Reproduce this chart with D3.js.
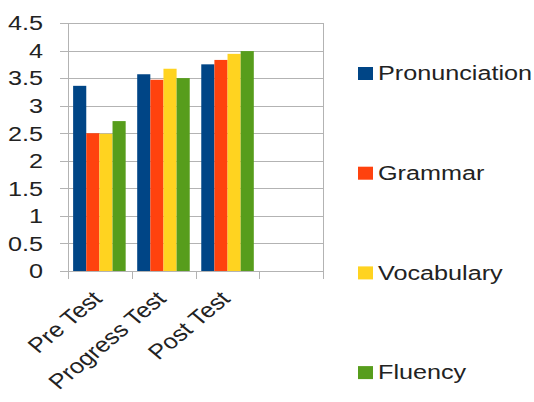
<!DOCTYPE html>
<html><head><meta charset="utf-8">
<script src="https://cdn.jsdelivr.net/npm/d3@7"></script>
<style>
html,body{margin:0;padding:0;background:#fff;}
svg{display:block;font-family:"Liberation Sans",Arial,sans-serif;}
</style></head>
<body>
<svg id="chart" width="534" height="402"></svg>
<script>
const categories = ["Pre Test", "Progress Test", "Post Test", ""];
const seriesNames = ["Pronunciation", "Grammar", "Vocabulary", "Fluency"];
const pronunciation = [3.36, 3.57, 3.75];
const grammar = [2.50, 3.47, 3.83];
const vocabulary = [2.49, 3.67, 3.94];
const fluency = [2.72, 3.50, 3.99];
const yTicks = [0, 0.5, 1, 1.5, 2, 2.5, 3, 3.5, 4, 4.5];
const colors = ["#004586", "#ff420e", "#ffd320", "#579d1c"];

const seriesValues = [pronunciation, grammar, vocabulary, fluency];
const svg = d3.select("#chart");
const L = 68, R = 323, T = 23, B = 271;
const SX = 1.2, FS = 21;

const x = d3.scaleBand().domain(categories).range([L, R]).paddingInner(0.18).paddingOuter(0.08);
const xs = d3.scaleBand().domain(seriesNames).range([0, x.bandwidth()]);
const y = d3.scaleLinear().domain([0, 4.5]).range([B, T]);

// gridlines
svg.append("g").selectAll("line").data(yTicks).join("line")
  .attr("x1", L - 8).attr("x2", R)
  .attr("y1", d => Math.round(y(d)) + 0.5).attr("y2", d => Math.round(y(d)) + 0.5)
  .attr("stroke", "#b3b3b3").attr("stroke-width", 1);

// category boundary ticks
const step = x.step();
const bounds = d3.range(categories.length + 1).map(i => L + i * (R - L) / categories.length);
svg.append("g").selectAll("line").data(bounds).join("line")
  .attr("x1", d => Math.round(d) + 0.5).attr("x2", d => Math.round(d) + 0.5)
  .attr("y1", B).attr("y2", B + 8)
  .attr("stroke", "#b3b3b3");
// left axis and right border
[L, R].forEach(v => svg.append("line")
  .attr("x1", Math.round(v) + 0.5).attr("x2", Math.round(v) + 0.5)
  .attr("y1", T).attr("y2", B + 1).attr("stroke", "#b3b3b3"));

// bars
seriesValues.forEach((vals, si) => {
  svg.append("g").selectAll("rect").data(vals).join("rect")
    .attr("x", (d, i) => x(categories[i]) + xs(seriesNames[si]))
    .attr("width", xs.bandwidth())
    .attr("y", d => y(d))
    .attr("height", d => y(0) - y(d))
    .attr("fill", colors[si]);
});

// y labels
svg.append("g").selectAll("text").data(yTicks).join("text")
  .attr("transform", d => `translate(43,${y(d)}) scale(${SX},1)`)
  .attr("dy", "0.35em")
  .attr("text-anchor", "end")
  .attr("font-size", FS).attr("fill", "#222")
  .text(d => d3.format("~g")(d));

// x labels
svg.append("g").selectAll("text").data(categories.filter(c => c !== "")).join("text")
  .attr("transform", d => `translate(${x(d) + x.bandwidth() / 2 + 4},300) scale(${SX},1) rotate(-45)`)
  .attr("text-anchor", "end")
  .attr("font-size", FS).attr("fill", "#222")
  .text(d => d);

// legend
const lg = svg.append("g").selectAll("g").data(seriesNames).join("g")
  .attr("transform", (d, i) => `translate(358,${73 + i * 99.7})`);
lg.append("rect").attr("x", 0).attr("y", -6).attr("width", 15).attr("height", 13)
  .attr("fill", (d, i) => colors[i]);
lg.append("text")
  .attr("transform", `translate(20,0) scale(${SX},1)`)
  .attr("dy", "0.35em")
  .attr("font-size", FS).attr("fill", "#222")
  .text(d => d);
</script>
</body></html>
